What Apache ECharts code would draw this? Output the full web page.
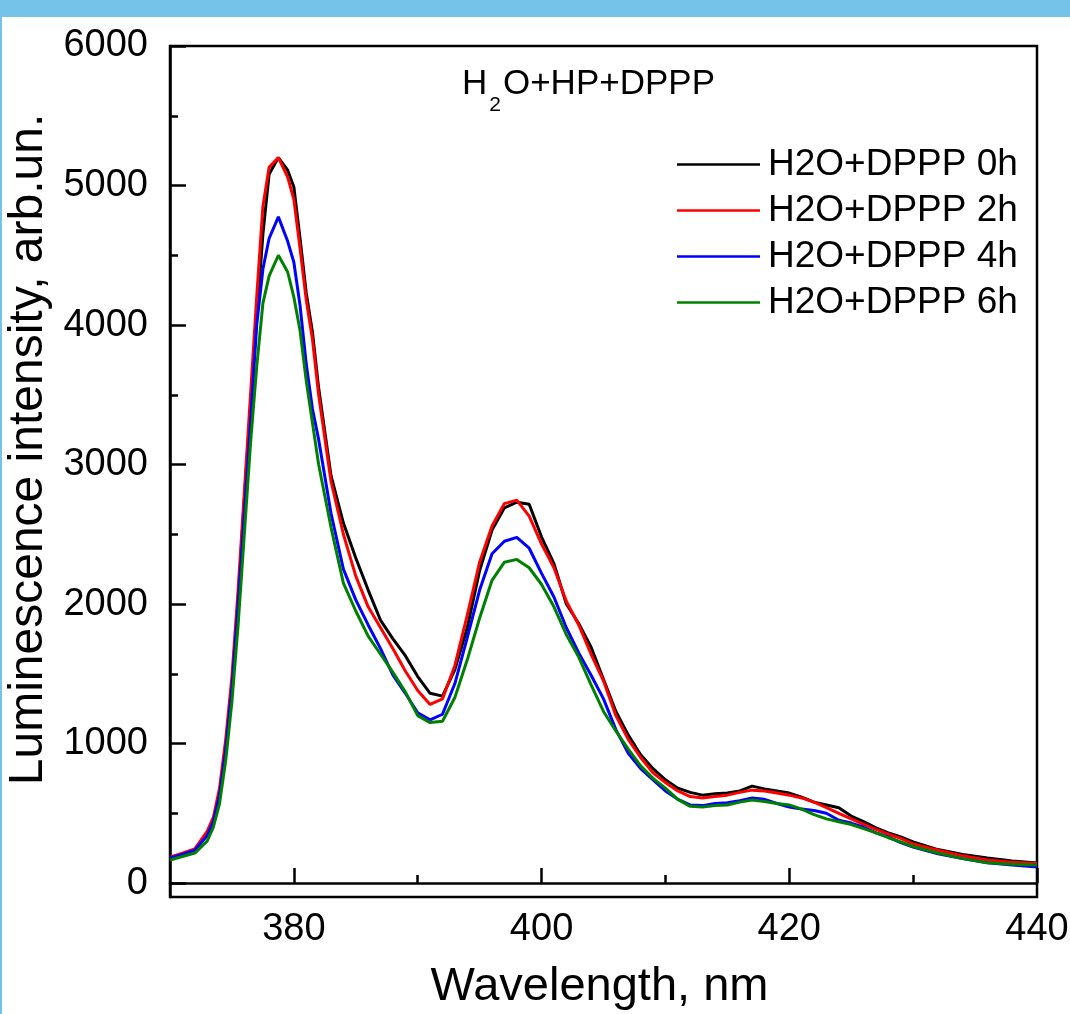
<!DOCTYPE html>
<html>
<head>
<meta charset="utf-8">
<script src="https://cdn.jsdelivr.net/npm/echarts@6/dist/echarts.min.js"></script>
<style>
html,body{margin:0;padding:0;background:#fff;}
#chart{width:1070px;height:1014px;}
</style>
</head>
<body>
<div id="chart"></div>
<script>
const wavelength = [370,371,372,373,373.5,374,374.5,375,375.5,376,376.5,377,377.5,378,378.75,379.5,380,380.5,381,381.5,382,
383,384,385,386,387,388,389,390,391,392,393,394,395,396,397,398,399,400,401,402,403,404,405,406,407,408,409,410,
411,412,413,414,415,416,417,418,419,420,421,422,423,424,425,426,427,428,429,430,432,434,436,438,440];

const h0 = [185,205,235,350,450,645,990,1420,2030,2750,3420,4050,4650,5080,5200,5110,4990,4620,4230,3950,3550,
2920,2580,2330,2100,1884,1750,1630,1480,1360,1340,1530,1830,2240,2530,2690,2730,2715,2480,2290,2000,1860,1690,1460,1230,1060,920,820,740,
680,650,630,640,645,660,695,675,660,645,615,580,560,540,480,440,395,360,330,295,240,205,180,158,143];

const h2 = [185,215,245,370,470,680,1030,1480,2100,2800,3500,4200,4850,5130,5200,5060,4900,4550,4180,3900,3500,
2880,2500,2200,1980,1830,1680,1520,1380,1280,1320,1560,1920,2300,2560,2720,2745,2630,2430,2260,2020,1850,1640,1450,1200,1030,900,790,720,
660,620,610,620,630,650,666,660,645,630,610,580,540,500,460,420,385,350,320,280,235,195,165,150,140];

const h4 = [180,205,235,340,440,630,960,1400,2000,2650,3300,4000,4400,4620,4775,4600,4450,4140,3720,3400,3180,
2650,2250,2030,1850,1680,1490,1360,1220,1170,1210,1430,1760,2100,2360,2450,2478,2400,2220,2050,1830,1650,1490,1320,1100,930,820,740,660,
600,560,555,570,575,590,609,600,570,545,530,520,500,450,430,400,360,330,290,258,210,175,145,130,115];

const h6 = [165,190,215,300,400,570,880,1300,1850,2500,3150,3700,4155,4350,4500,4380,4200,3961,3600,3300,3000,
2550,2150,1950,1770,1640,1510,1370,1200,1150,1160,1330,1600,1900,2170,2300,2320,2260,2140,1980,1780,1620,1420,1230,1090,960,840,750,680,
600,550,545,555,560,580,595,585,570,560,530,490,460,440,420,390,360,325,295,262,215,175,145,135,130];

const seriesNames = ['H2O+DPPP 0h','H2O+DPPP 2h','H2O+DPPP 4h','H2O+DPPP 6h'];
const seriesColors = ['#000000','#ff0000','#0000ff','#008000'];
const xMajorTicks = [380,400,420,440];
const xMinorTicks = [390,410,430];
const yMajorTicks = [0,1000,2000,3000,4000,5000,6000];
const yMinorTicks = [500,1500,2500,3500,4500,5500];

const FONT = 'Liberation Sans, Arial, sans-serif';
const allSeries = [h0,h2,h4,h6];

const chart = echarts.init(document.getElementById('chart'), null, {renderer:'canvas'});

const baseX = {type:'value', min:370, max:440, splitLine:{show:false}};
const baseY = {type:'value', min:-100, max:6000, splitLine:{show:false}};

chart.setOption({
  animation:false,
  backgroundColor:'#ffffff',
  graphic:[
    {type:'rect', shape:{x:0,y:0,width:1070,height:17}, style:{fill:'#75c3e8'}, z:100},
    {type:'rect', shape:{x:0,y:0,width:2,height:1014}, style:{fill:'#75c3e8'}, z:100}
  ],
  title:{
    text:'{n|H}{s|2}{n|O+HP+DPPP}',
    left:462, top:67, padding:0,
    textStyle:{
      fontWeight:'normal',
      rich:{
        n:{fontFamily:FONT, fontSize:35, fontWeight:'normal', color:'#000', lineHeight:35, verticalAlign:'top'},
        s:{fontFamily:FONT, fontSize:21, fontWeight:'normal', color:'#000', lineHeight:21, padding:[28,2,0,2], verticalAlign:'top'}
      }
    }
  },
  legend:{
    orient:'vertical', left:672, top:141,
    itemWidth:83, itemHeight:3, itemGap:9,
    icon:'path://M0,0 L100,0 L100,3 L0,3 Z',
    textStyle:{fontFamily:FONT, fontSize:37, color:'#000', padding:[0,0,0,3]},
    data:seriesNames
  },
  grid:{left:170, right:33, top:46, bottom:117, show:true, borderColor:'#000', borderWidth:2.5,
        backgroundColor:'transparent', outerBoundsMode:'none', containLabel:false},
  xAxis:[
    Object.assign({}, baseX, {
      name:'Wavelength, nm', nameLocation:'middle', nameGap:67,
      nameTextStyle:{fontFamily:FONT, fontSize:47, color:'#000', padding:[0,8,0,0]},
      axisLine:{show:true, lineStyle:{color:'#000', width:2.5}},
      axisTick:{show:true, inside:true, length:15, lineStyle:{color:'#000', width:2.5}, customValues:xMajorTicks},
      axisLabel:{show:true, margin:14, fontFamily:FONT, fontSize:38, color:'#000', customValues:xMajorTicks,
                 formatter:(v)=>String(v)}
    }),
    Object.assign({}, baseX, {
      position:'bottom',
      axisLine:{show:false},
      axisTick:{show:true, inside:true, length:8, lineStyle:{color:'#000', width:2.5}, customValues:xMinorTicks},
      axisLabel:{show:false}
    })
  ],
  yAxis:[
    Object.assign({}, baseY, {
      name:'Luminescence intensity, arb.un.', nameLocation:'middle', nameGap:112, nameRotate:90,
      nameTextStyle:{fontFamily:FONT, fontSize:48, color:'#000', align:'center', padding:[0,0,0,44]},
      axisLine:{show:true, lineStyle:{color:'#000', width:2.5}},
      axisTick:{show:true, inside:true, length:16, lineStyle:{color:'#000', width:2.5}, customValues:yMajorTicks},
      axisLabel:{show:true, margin:22, fontFamily:FONT, fontSize:38, color:'#000', customValues:yMajorTicks,
                 formatter:(v)=>String(v)}
    }),
    Object.assign({}, baseY, {
      position:'left',
      axisLine:{show:false},
      axisTick:{show:true, inside:true, length:8, lineStyle:{color:'#000', width:2.5}, customValues:yMinorTicks},
      axisLabel:{show:false}
    })
  ],
  series: allSeries.map((vals, i) => ({
    name: seriesNames[i],
    type:'line',
    xAxisIndex:0, yAxisIndex:0,
    symbol:'none',
    smooth:false,
    color: seriesColors[i],
    lineStyle:{color:seriesColors[i], width:3},
    data: wavelength.map((w, k) => [w, vals[k]]),
    z: 2 + i
  }))
});
</script>
</body>
</html>
